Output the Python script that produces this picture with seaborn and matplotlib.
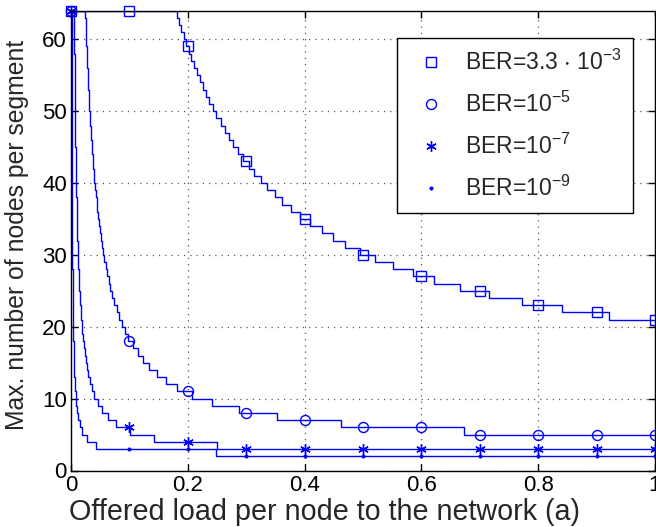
import matplotlib
matplotlib.use("Agg")
import matplotlib.pyplot as plt
import seaborn as sns
import pandas as pd

# ---------------- data ----------------
marker_x = [0.0, 0.1, 0.2, 0.3, 0.4, 0.5, 0.6, 0.7, 0.8, 0.9, 1.0]
sq_marks = [64, 64, 59, 43, 35, 30, 27, 25, 23, 22, 21]
ci_marks = [64, 18, 11, 8, 7, 6, 6, 5, 5, 5, 5]
st_marks = [64, 6, 4, 3, 3, 3, 3, 3, 3, 3, 3]
dt_marks = [64, 3, 3, 2, 2, 2, 2, 2, 2, 2, 2]

# step curves: x where the level changes, and the level after each change
sq_breaks = [0.182, 0.185, 0.189, 0.193, 0.197, 0.202, 0.206, 0.211, 0.216, 0.221,
             0.226, 0.231, 0.237, 0.243, 0.249, 0.256, 0.263, 0.270, 0.278, 0.286,
             0.295, 0.304, 0.314, 0.325, 0.336, 0.349, 0.362, 0.377, 0.392, 0.409,
             0.429, 0.448, 0.470, 0.495, 0.521, 0.551, 0.585, 0.622, 0.666, 0.716,
             0.773, 0.841, 0.922]
sq_levels = [63, 62, 61, 60, 59, 58, 57, 56, 55, 54, 53, 52, 51, 50, 49, 48, 47, 46,
             45, 44, 43, 42, 41, 40, 39, 38, 37, 36, 35, 34, 33, 32, 31, 30, 29, 28,
             27, 26, 25, 24, 23, 22, 21]

ci_breaks = [0.0245, 0.0250, 0.0255, 0.0260, 0.0265, 0.0270, 0.0275, 0.0280, 0.0285,
             0.0291, 0.0297, 0.0303, 0.0309, 0.0316, 0.0323, 0.0330, 0.0337, 0.0345,
             0.0353, 0.0362, 0.0371, 0.0381, 0.0391, 0.0401, 0.0412, 0.0424, 0.0437,
             0.0450, 0.0464, 0.0479, 0.0495, 0.0512, 0.0530, 0.0550, 0.0571, 0.0594,
             0.0618, 0.0645, 0.0674, 0.0707, 0.0742, 0.0781, 0.0824, 0.0873, 0.0925,
             0.0975, 0.107, 0.114, 0.123, 0.134, 0.147, 0.163, 0.182, 0.208, 0.241,
             0.288, 0.353, 0.463, 0.673]
ci_levels = [63, 62, 61, 60, 59, 58, 57, 56, 55, 54, 53, 52, 51, 50, 49, 48, 47, 46,
             45, 44, 43, 42, 41, 40, 39, 38, 37, 36, 35, 34, 33, 32, 31, 30, 29, 28,
             27, 26, 25, 24, 23, 22, 21, 20, 19, 18, 17, 16, 15, 14, 13, 12, 11, 10,
             9, 8, 7, 6, 5]

st_breaks = [0.00543, 0.00552, 0.00562, 0.00571, 0.00581, 0.00592, 0.00602, 0.00613,
             0.00625, 0.00637, 0.00649, 0.00662, 0.00676, 0.00690, 0.00704, 0.00719,
             0.00735, 0.00752, 0.00769, 0.00787, 0.00806, 0.00826, 0.00847, 0.00870,
             0.00893, 0.00917, 0.00943, 0.00971, 0.01000, 0.01031, 0.01064, 0.01099,
             0.01136, 0.01176, 0.01220, 0.01266, 0.01316, 0.01370, 0.01429, 0.01493,
             0.01563, 0.01639, 0.01724, 0.01818, 0.01923, 0.02041, 0.02174, 0.02326,
             0.02500, 0.02703, 0.02941, 0.03226, 0.03571, 0.04000, 0.04545, 0.05263,
             0.06250, 0.07692, 0.1005, 0.1429, 0.250]
st_levels = [63, 62, 61, 60, 59, 58, 57, 56, 55, 54, 53, 52, 51, 50, 49, 48, 47, 46,
             45, 44, 43, 42, 41, 40, 39, 38, 37, 36, 35, 34, 33, 32, 31, 30, 29, 28,
             27, 26, 25, 24, 23, 22, 21, 20, 19, 18, 17, 16, 15, 14, 13, 12, 11, 10,
             9, 8, 7, 6, 5, 4, 3]

dt_breaks = [0.00110, 0.00112, 0.00114, 0.00116, 0.00118, 0.00120, 0.00122, 0.00125,
             0.00127, 0.00129, 0.00132, 0.00134, 0.00137, 0.00140, 0.00143, 0.00146,
             0.00149, 0.00153, 0.00156, 0.00160, 0.00164, 0.00168, 0.00172, 0.00176,
             0.00181, 0.00186, 0.00191, 0.00197, 0.00203, 0.00209, 0.00215, 0.00222,
             0.00230, 0.00238, 0.00247, 0.00256, 0.00266, 0.00277, 0.00288, 0.00301,
             0.00315, 0.00330, 0.00347, 0.00366, 0.00387, 0.00410, 0.00436, 0.00466,
             0.00501, 0.00541, 0.00587, 0.00643, 0.00710, 0.00793, 0.00897, 0.01033,
             0.01219, 0.01485, 0.0190, 0.0270, 0.0430, 0.249]
dt_levels = [63, 62, 61, 60, 59, 58, 57, 56, 55, 54, 53, 52, 51, 50, 49, 48, 47, 46,
             45, 44, 43, 42, 41, 40, 39, 38, 37, 36, 35, 34, 33, 32, 31, 30, 29, 28,
             27, 26, 25, 24, 23, 22, 21, 20, 19, 18, 17, 16, 15, 14, 13, 12, 11, 10,
             9, 8, 7, 6, 5, 4, 3, 2]

labels = [r"BER=3.3 $\cdot$ 10$^{-3}$", r"BER=10$^{-5}$", r"BER=10$^{-7}$", r"BER=10$^{-9}$"]
x_label = "Offered load per node to the network (a)"
y_label = "Max. number of nodes per segment"
x_ticks = [0, 0.2, 0.4, 0.6, 0.8, 1]
x_ticklabels = ["0", "0.2", "0.4", "0.6", "0.8", "1"]
y_ticks = [0, 10, 20, 30, 40, 50, 60]

# ---------------- styling ----------------
sns.set_style("ticks")
plt.rcParams["font.family"] = ["Liberation Sans", "DejaVu Sans"]
plt.rcParams["mathtext.fontset"] = "custom"
plt.rcParams["mathtext.rm"] = "Liberation Sans"
plt.rcParams["mathtext.default"] = "regular"

BLUE = "#0000ff"
fig = plt.figure(figsize=(6.56, 5.27), dpi=100)
ax = fig.add_axes([71 / 656, 1 - 470.5 / 527, 584 / 656, (470.5 - 10.5) / 527])


def step_frame(breaks, levels, top=64, x0=0.0, x1=1.0):
    xs = [x0] + list(breaks) + [x1]
    ys = [top] + list(levels) + [levels[-1]]
    return pd.DataFrame({"x": xs, "y": ys})


series = [
    (sq_breaks, sq_levels, sq_marks, dict(marker="s", markersize=6.6, markerfacecolor="none",
                                          markeredgecolor=BLUE, markeredgewidth=1.0)),
    (ci_breaks, ci_levels, ci_marks, dict(marker="o", markersize=7.2, markerfacecolor="none",
                                          markeredgecolor=BLUE, markeredgewidth=1.0)),
    (st_breaks, st_levels, st_marks, dict(marker=(6, 2, 0), markersize=7.5,
                                          markeredgecolor=BLUE, markeredgewidth=1.0)),
    (dt_breaks, dt_levels, dt_marks, dict(marker="o", markersize=2.4, markerfacecolor=BLUE,
                                          markeredgecolor=BLUE, markeredgewidth=0.5)),
]

for (brk, lev, marks, mkw), lab in zip(series, labels):
    df = step_frame(brk, lev)
    sns.lineplot(data=df, x="x", y="y", ax=ax, color=BLUE, lw=1.0,
                 drawstyle="steps-post", estimator=None, sort=False, legend=False)
    mdf = pd.DataFrame({"x": marker_x, "y": marks})
    sns.lineplot(data=mdf, x="x", y="y", ax=ax, color=BLUE, linestyle="", label=lab,
                 estimator=None, sort=False, clip_on=False, **mkw)

ax.set_xlim(0, 1)
ax.set_ylim(0, 64)
ax.set_xticks(x_ticks)
ax.set_xticklabels(x_ticklabels)
ax.set_yticks(y_ticks)
ax.set_xlabel(x_label, fontsize=20.7, ha="left", va="baseline")
ax.xaxis.set_label_coords((69 - 71) / 584, (470.5 - 520) / 460)
ax.set_ylabel(y_label, fontsize=17.8)
ax.yaxis.set_label_coords((29 - 71) / 584, (470.5 - 235) / 460)
ax.tick_params(direction="in", length=5, width=1, top=True, right=True,
               labelsize=16, colors="black", pad=3)
for s in ax.spines.values():
    s.set_visible(True)
    s.set_linewidth(1.0)
    s.set_color("black")
ax.grid(True, linestyle=(0, (1, 4)), color="#555555", linewidth=0.9)

leg = ax.legend(loc="upper left", bbox_to_anchor=((397 - 71) / 584, (470.5 - 38) / 460),
                fontsize=16.5, frameon=True, fancybox=False, framealpha=1, edgecolor="black",
                borderpad=0.5, labelspacing=0.74, handlelength=2.0, handletextpad=0.45,
                borderaxespad=0)
leg.get_frame().set_linewidth(1.0)

fig.savefig("out.png", dpi=100)
